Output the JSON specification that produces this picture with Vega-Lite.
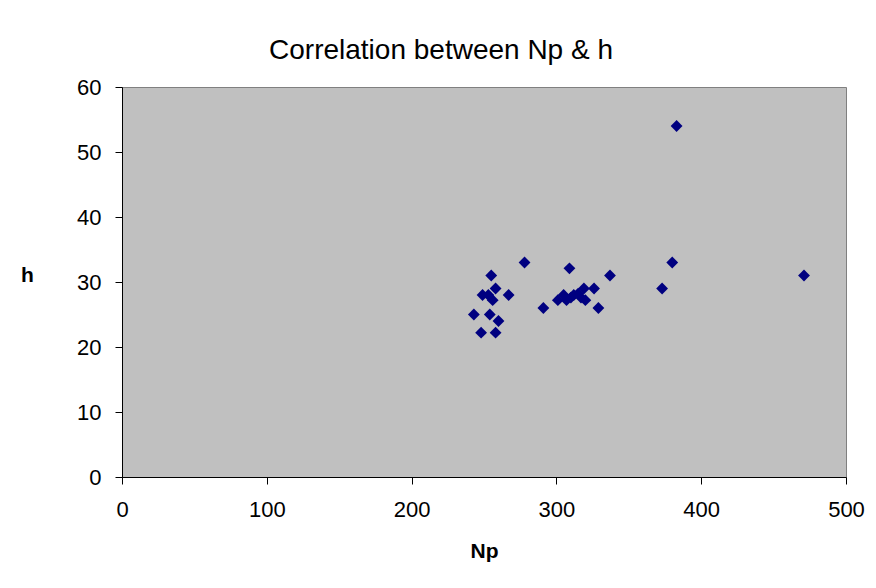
{
  "$schema": "https://vega.github.io/schema/vega-lite/v6.json",
  "width": 724,
  "height": 390,
  "autosize": {"type": "none"},
  "padding": {"left": 122, "top": 87, "right": 30, "bottom": 111},
  "background": "white",
  "title": {
    "text": "Correlation between Np & h",
    "font": "Liberation Sans",
    "fontSize": 28,
    "fontWeight": "normal",
    "color": "black",
    "anchor": "middle",
    "dx": -43,
    "offset": 11
  },
  "config": {
    "view": {"fill": "#C0C0C0", "stroke": "#808080", "strokeWidth": 1}
  },
  "data": {
    "values": [
      {"Np": 243, "h": 25},
      {"Np": 248, "h": 22.2},
      {"Np": 249, "h": 28},
      {"Np": 253, "h": 28},
      {"Np": 254, "h": 25},
      {"Np": 255, "h": 31},
      {"Np": 256, "h": 27.2},
      {"Np": 258, "h": 29},
      {"Np": 258, "h": 22.2},
      {"Np": 260, "h": 24},
      {"Np": 267, "h": 28},
      {"Np": 278, "h": 33},
      {"Np": 291, "h": 26},
      {"Np": 301, "h": 27.2},
      {"Np": 305, "h": 28},
      {"Np": 307, "h": 27.2},
      {"Np": 309, "h": 32.1},
      {"Np": 310, "h": 27.6},
      {"Np": 312, "h": 28},
      {"Np": 315, "h": 28.2},
      {"Np": 317, "h": 27.6},
      {"Np": 319, "h": 29},
      {"Np": 320, "h": 27.2},
      {"Np": 326, "h": 29},
      {"Np": 329, "h": 26},
      {"Np": 337, "h": 31},
      {"Np": 373, "h": 29},
      {"Np": 380, "h": 33},
      {"Np": 383, "h": 54},
      {"Np": 471, "h": 31}
    ]
  },
  "mark": {"type": "point", "shape": "diamond", "filled": true, "color": "#000080", "opacity": 1, "size": 140},
  "encoding": {
    "x": {
      "field": "Np",
      "type": "quantitative",
      "scale": {"domain": [0, 500], "nice": false},
      "axis": {
        "title": "Np",
        "values": [0, 100, 200, 300, 400, 500],
        "grid": false,
        "domainColor": "black",
        "tickColor": "black",
        "tickSize": 7,
        "labelFont": "Liberation Sans",
        "labelFontSize": 22,
        "labelColor": "black",
        "labelPadding": 15,
        "labelFlush": false,
        "titleFont": "Liberation Sans",
        "titleFontSize": 21,
        "titleFontWeight": "bold",
        "titleColor": "black",
        "titlePadding": 20
      }
    },
    "y": {
      "field": "h",
      "type": "quantitative",
      "scale": {"domain": [0, 60], "nice": false},
      "axis": {
        "title": "h",
        "values": [0, 10, 20, 30, 40, 50, 60],
        "grid": false,
        "domainColor": "black",
        "tickColor": "black",
        "tickSize": 7,
        "labelFont": "Liberation Sans",
        "labelFontSize": 22,
        "labelColor": "black",
        "labelPadding": 14,
        "labelFlush": false,
        "titleFont": "Liberation Sans",
        "titleFontSize": 21,
        "titleFontWeight": "bold",
        "titleColor": "black",
        "titleAngle": 0,
        "titleAlign": "center",
        "titleBaseline": "middle",
        "titleX": -95,
        "titleY": 188
      }
    }
  }
}
